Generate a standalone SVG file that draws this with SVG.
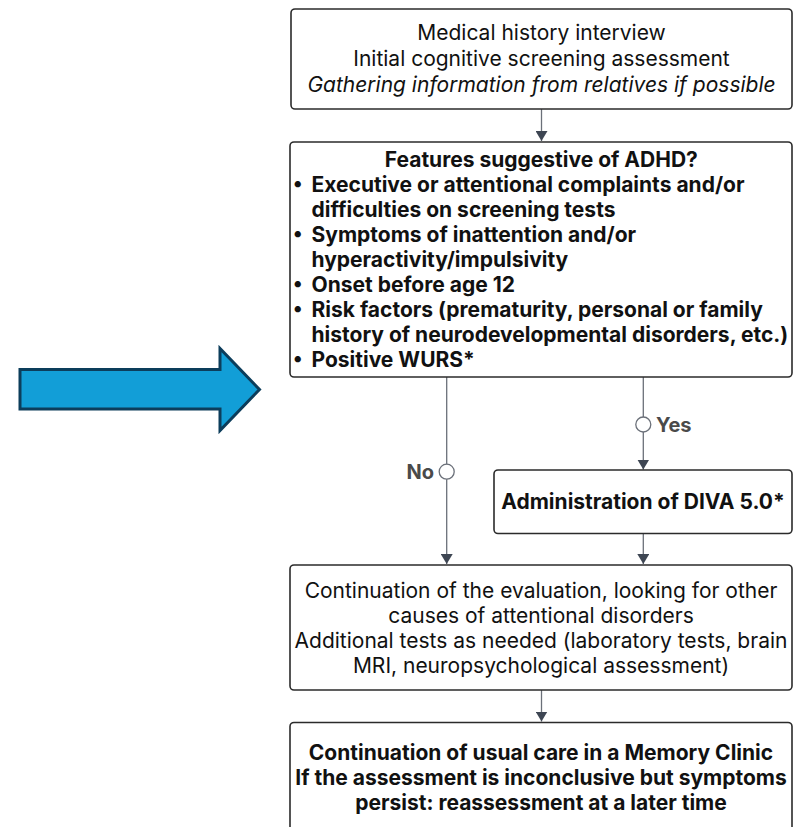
<svg xmlns="http://www.w3.org/2000/svg" width="800" height="827" viewBox="0 0 800 827">
<defs>
<style>
.box{fill:#ffffff;stroke:#2b2b2b;stroke-width:1.6}
.t{font-family:Inter,"Liberation Sans",sans-serif;font-size:21px;fill:#111111}
.c{text-anchor:middle}
.b{font-weight:bold}
.i{font-style:italic}
.bul{font-size:20px}
.conn{fill:none;stroke:#6b7079;stroke-width:1.3}
.lab{font-family:Inter,"Liberation Sans",sans-serif;font-size:20px;font-weight:bold;fill:#4a4a4a}
.dot{fill:#ffffff;stroke:#6b7079;stroke-width:1.3}
</style>
<marker id="ah" viewBox="0 0 10 12" refX="10" refY="6" markerWidth="10" markerHeight="12" markerUnits="userSpaceOnUse" orient="auto">
<path d="M0,0 L10,6 L0,12 Z" fill="#3e4653"/>
</marker>
</defs>

<g id="big-arrow">
<path d="M20,369.5 L220,369.5 L220,348.5 L259.5,389.5 L220,430.5 L220,409 L20,409 Z" fill="#129ed7" stroke="#0c3d5b" stroke-width="3" stroke-linejoin="miter"/>
</g>

<g id="connectors">
<line class="conn" x1="541.5" y1="109" x2="541.5" y2="141" marker-end="url(#ah)"/>
<line class="conn" x1="446.7" y1="377" x2="446.7" y2="564" marker-end="url(#ah)"/>
<line class="conn" x1="643.3" y1="377" x2="643.3" y2="469.5" marker-end="url(#ah)"/>
<line class="conn" x1="643.3" y1="533.5" x2="643.3" y2="564" marker-end="url(#ah)"/>
<line class="conn" x1="541.5" y1="690" x2="541.5" y2="721.5" marker-end="url(#ah)"/>
<circle class="dot" cx="643.3" cy="424.5" r="7.5"/>
<circle class="dot" cx="446.7" cy="471.7" r="7.5"/>
<text class="lab" x="656" y="431.5">Yes</text>
<text class="lab" x="434" y="479" text-anchor="end">No</text>
</g>

<g id="n1">
<rect class="box" x="291" y="9" width="501" height="100" rx="4"/>
<text class="t c" x="541.5" y="40">Medical history interview</text>
<text class="t c" x="541.5" y="65.5">Initial cognitive screening assessment</text>
<text class="t c i" x="541.5" y="92">Gathering information from relatives if possible</text>
</g>

<g id="n2">
<rect class="box" x="290" y="142" width="502" height="235" rx="4"/>
<text class="t c b" x="541.3" y="167">Features suggestive of ADHD?</text>
<g class="t b">
<text class="bul" x="293" y="190">•</text>
<text x="311.5" y="191.5">Executive or attentional complaints and/or</text>
<text x="311.5" y="216.5">difficulties on screening tests</text>
<text class="bul" x="293" y="240">•</text>
<text x="311.5" y="241.5">Symptoms of inattention and/or</text>
<text x="311.5" y="266.5">hyperactivity/impulsivity</text>
<text class="bul" x="293" y="290">•</text>
<text x="311.5" y="291.5">Onset before age 12</text>
<text class="bul" x="293" y="315">•</text>
<text x="311.5" y="316.5">Risk factors (prematurity, personal or family</text>
<text x="311.5" y="341.5">history of neurodevelopmental disorders, etc.)</text>
<text class="bul" x="293" y="365">•</text>
<text x="311.5" y="366.5">Positive WURS*</text>
</g>
</g>

<g id="n3">
<rect class="box" x="494" y="470" width="298" height="63.5" rx="4"/>
<text class="t c b" x="643" y="509">Administration of DIVA 5.0*</text>
</g>

<g id="n4">
<rect class="box" x="290" y="565" width="502" height="125" rx="4"/>
<text class="t c" x="541" y="597.5">Continuation of the evaluation, looking for other</text>
<text class="t c" x="541" y="622.5">causes of attentional disorders</text>
<text class="t c" x="541" y="647.5">Additional tests as needed (laboratory tests, brain</text>
<text class="t c" x="541" y="672.5">MRI, neuropsychological assessment)</text>
</g>

<g id="n5">
<rect class="box" x="290" y="722.5" width="502" height="130" rx="4"/>
<text class="t c b" x="541" y="759.5">Continuation of usual care in a Memory Clinic</text>
<text class="t c b" x="541" y="784.5">If the assessment is inconclusive but symptoms</text>
<text class="t c b" x="541" y="809.5">persist: reassessment at a later time</text>
</g>
</svg>
